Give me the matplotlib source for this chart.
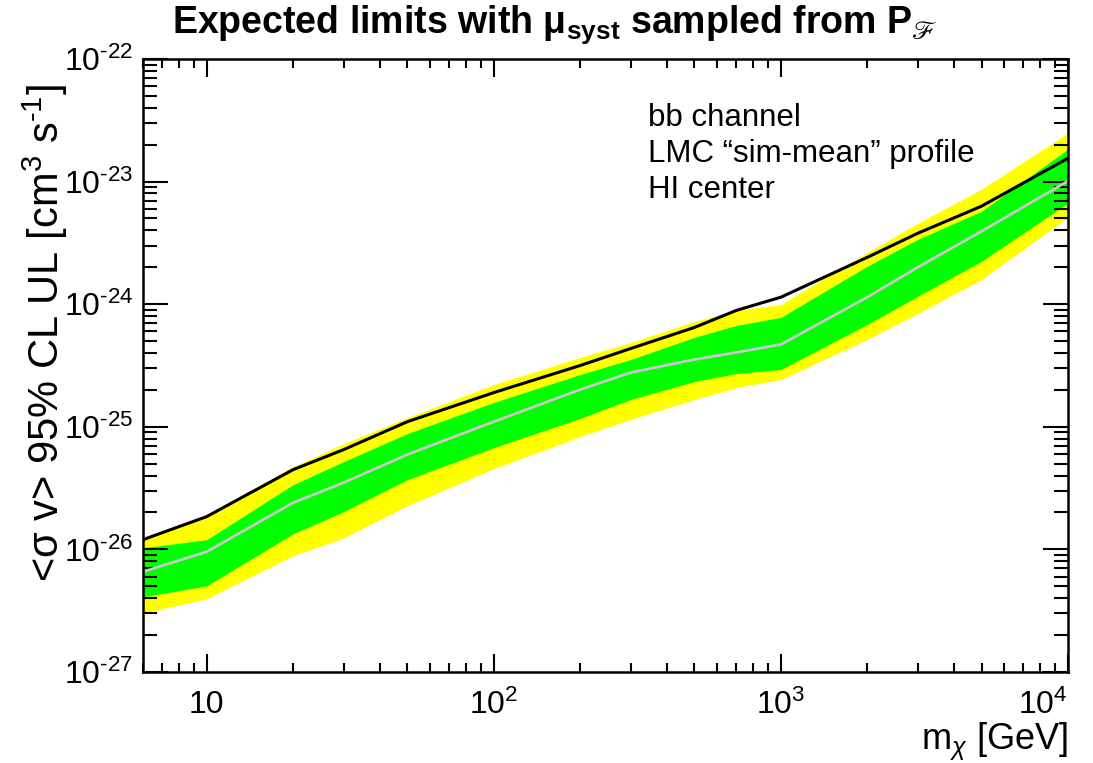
import matplotlib
matplotlib.use("Agg")
import matplotlib.pyplot as plt
from matplotlib.ticker import FixedLocator, LogLocator, NullFormatter

plt.rcParams["font.family"] = ["Liberation Sans", "DejaVu Sans"]
plt.rcParams["mathtext.fontset"] = "custom"
plt.rcParams["mathtext.rm"] = "Liberation Sans"
plt.rcParams["mathtext.it"] = "Liberation Sans:italic"
plt.rcParams["mathtext.bf"] = "Liberation Sans:bold"
plt.rcParams["mathtext.fallback"] = "stix"

# DM mass grid [GeV]
mass = [6, 10, 20, 30, 50, 100, 200, 300, 500, 700, 1000, 2000, 3000, 5000, 10000]

# limit curves <sigma v> [cm^3 s^-1]
limit_black = [1.20e-26, 1.85e-26, 4.47e-26, 6.51e-26, 1.10e-25, 1.90e-25, 3.16e-25,
               4.35e-25, 6.46e-25, 8.90e-25, 1.14e-24, 2.41e-24, 3.79e-24, 6.30e-24, 1.55e-23]
median = [6.56e-27, 9.56e-27, 2.40e-26, 3.50e-26, 5.93e-26, 1.10e-25, 2.01e-25,
          2.77e-25, 3.54e-25, 4.04e-25, 4.69e-25, 1.14e-24, 2.00e-24, 3.93e-24, 1.01e-23]
band68_hi = [1.03e-26, 1.20e-26, 3.37e-26, 5.20e-26, 8.80e-26, 1.58e-25, 2.67e-25,
             3.54e-25, 5.36e-25, 6.71e-25, 7.80e-25, 2.04e-24, 3.38e-24, 5.73e-24, 1.84e-23]
band68_lo = [4.10e-27, 5.04e-27, 1.34e-26, 2.03e-26, 3.70e-26, 6.76e-26, 1.17e-25,
             1.67e-25, 2.34e-25, 2.72e-25, 2.93e-25, 6.84e-25, 1.16e-24, 2.24e-24, 6.66e-24]
band95_hi = [1.24e-26, 1.92e-26, 4.73e-26, 7.29e-26, 1.19e-25, 2.21e-25, 3.68e-25,
             4.87e-25, 7.23e-25, 8.90e-25, 9.96e-25, 2.65e-24, 4.57e-24, 8.67e-24, 2.49e-23]
band95_lo = [3.03e-27, 3.95e-27, 8.87e-27, 1.24e-26, 2.27e-26, 4.56e-26, 8.32e-26,
             1.15e-25, 1.67e-25, 2.09e-25, 2.43e-25, 5.16e-25, 8.41e-25, 1.59e-24, 5.12e-24]

xticks = [10, 100, 1000, 10000]
xticklabels = ["10", "10$^{2}$", "10$^{3}$", "10$^{4}$"]
yticks = [1e-27, 1e-26, 1e-25, 1e-24, 1e-23, 1e-22]
yticklabels = ["10$^{\\text{-}27}$", "10$^{\\text{-}26}$", "10$^{\\text{-}25}$",
               "10$^{\\text{-}24}$", "10$^{\\text{-}23}$", "10$^{\\text{-}22}$"]
info_lines = ["bb channel", "LMC \u201csim-mean\u201d profile", "HI center"]

fig = plt.figure(figsize=(10.93, 7.63), dpi=100)
ax = fig.add_axes([0.1308, 0.1193, 0.8463, 0.8034])

ax.fill_between(mass, band95_lo, band95_hi, color="#ffff00", linewidth=0)
ax.fill_between(mass, band68_lo, band68_hi, color="#00ff00", linewidth=0)
ax.plot(mass, median, color="#c8c8c8", linewidth=2)
ax.plot(mass, limit_black, color="black", linewidth=2.2)

ax.set_xscale("log")
ax.set_yscale("log")
ax.set_xlim(6, 1e4)
ax.set_ylim(1e-27, 1e-22)

ax.xaxis.set_major_locator(FixedLocator(xticks))
ax.set_xticklabels(xticklabels)
ax.xaxis.set_minor_locator(LogLocator(base=10, subs=range(2, 10), numticks=20))
ax.xaxis.set_minor_formatter(NullFormatter())
ax.yaxis.set_major_locator(FixedLocator(yticks))
ax.set_yticklabels(yticklabels)
ax.yaxis.set_minor_locator(LogLocator(base=10, subs=range(2, 10), numticks=20))
ax.yaxis.set_minor_formatter(NullFormatter())

ax.tick_params(axis="both", which="both", direction="in", top=True, right=True,
               width=1.5, labelsize=23)
ax.tick_params(axis="x", which="major", length=13, pad=13)
ax.tick_params(axis="x", which="minor", length=6.5)
ax.tick_params(axis="y", which="major", length=18, pad=7)
ax.tick_params(axis="y", which="minor", length=10)
for sp in ax.spines.values():
    sp.set_linewidth(1.8)

# last x label sits flush with the frame edge
ax.get_xticklabels()[-1].set_horizontalalignment("right")

for i, line in enumerate(info_lines):
    fig.text(648 / 1093, 1 - (118 + 36 * i) / 763, line, fontsize=22.5, va="center", ha="left")

fig.text(0.508, 1 - 25 / 763,
         "Expected limits with $\\mathbf{\\mu_{syst}}$ sampled from P$_{ℱ}$",
         fontsize=27, fontweight="bold", ha="center", va="center")
fig.text(45 / 1093, 1 - 84 / 763, "<\u03c3 v> 95% CL UL [cm$^{3}$ s$^{\\text{-}1}$]",
         fontsize=30, rotation=90, ha="center", va="top")
fig.text(1068 / 1093, 1 - 742 / 763, "m$_{\\chi}$ [GeV]", fontsize=26, ha="right", va="center")

fig.savefig("out.png", dpi=100)
